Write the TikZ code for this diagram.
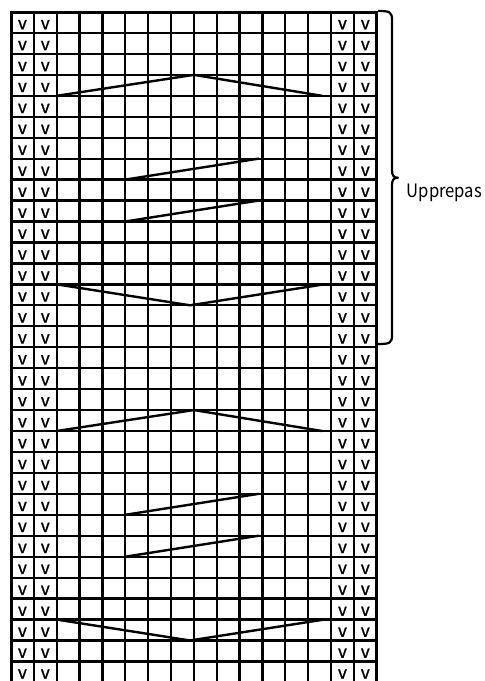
\documentclass[tikz,border=0pt]{standalone}
\usepackage{fontspec}
\newfontfamily\kfont{Noto Sans CJK KR}
\newfontfamily\kfontb[FakeBold=1.2]{Noto Sans CJK KR}
\def\xo{11}
\def\cw{22.86}
\def\yo{12}
\def\rh{20.95}
\tikzset{
  gridline/.style={line width=2.3pt, black},
  outerline/.style={line width=3pt, black},
  zigline/.style={line width=2.4pt, black, line cap=round, line join=round},
  bracketline/.style={line width=2.2pt, black, line join=round},
  vmark/.style={anchor=base, inner sep=0pt, font=\kfontb\fontsize{17}{18}\selectfont},
  label/.style={anchor=base west, inner sep=0pt, font=\kfont\fontsize{18.5}{22}\selectfont}
}
\begin{document}
\begin{tikzpicture}[x=1pt,y=-1pt]
\useasboundingbox (0,0) rectangle (485,681);
\fill[white] (0,0) rectangle (485,681);
\begin{scope}
\clip (0,0) rectangle (485,681);
% inner vertical lines
\foreach \i in {1,...,15}
  \draw[gridline] ({\xo+\i*\cw},\yo) -- ({\xo+\i*\cw},690);
% horizontal lines
\foreach \j in {1,...,32}
  \draw[gridline] (\xo,{\yo+\j*\rh}) -- ({\xo+16*\cw},{\yo+\j*\rh});
% outer border
\draw[outerline] (\xo,690) -- (\xo,\yo) -- ({\xo+16*\cw},\yo) -- ({\xo+16*\cw},690);
% v marks
\foreach \r in {0,...,31}
  \foreach \c in {0,1,14,15}
    \node[vmark] (v-\r-\c) at ({\xo+(\c+0.5)*\cw},{\yo+(\r+1)*\rh-3.7}) {v};
% zigzag lines
\foreach \s in {0,16} {
  \coordinate (pa\s) at ({\xo+2*\cw},{\yo+(4+\s)*\rh});
  \coordinate (pb\s) at ({\xo+8*\cw},{\yo+(3+\s)*\rh});
  \coordinate (pc\s) at (322,{\yo+(4+\s)*\rh});
  \coordinate (qa\s) at ({\xo+5*\cw},{\yo+(8+\s)*\rh});
  \coordinate (qb\s) at (258.5,{\yo+(7+\s)*\rh});
  \coordinate (ra\s) at ({\xo+5*\cw},{\yo+(10+\s)*\rh});
  \coordinate (rb\s) at (258.5,{\yo+(9+\s)*\rh});
  \coordinate (ta\s) at ({\xo+2*\cw},{\yo+(13+\s)*\rh});
  \coordinate (tb\s) at (190,{\yo+(14+\s)*\rh});
  \coordinate (tc\s) at (324,{\yo+(13+\s)*\rh});
  \draw[zigline] (pa\s) -- (pb\s) -- (pc\s);
  \draw[zigline] (qa\s) -- (qb\s);
  \draw[zigline] (ra\s) -- (rb\s);
  \draw[zigline] (ta\s) -- (tb\s) -- (tc\s);
}
\end{scope}
% bracket
\coordinate (btop) at (378,11);
\coordinate (btip) at (398,177.7);
\coordinate (bbot) at (378,344);
\draw[bracketline] (btop) .. controls (390,11) and (392,12) .. (392,20)
  -- (392,170) .. controls (392,176) and (394,177.7) .. (btip)
  .. controls (394,177.7) and (392,179.5) .. (392,185)
  -- (392,335) .. controls (392,343) and (390,344) .. (bbot);
\node[label] (lab) at (406.5,197) {\scalebox{0.9}[1]{Upprepas}};
\end{tikzpicture}
\end{document}
